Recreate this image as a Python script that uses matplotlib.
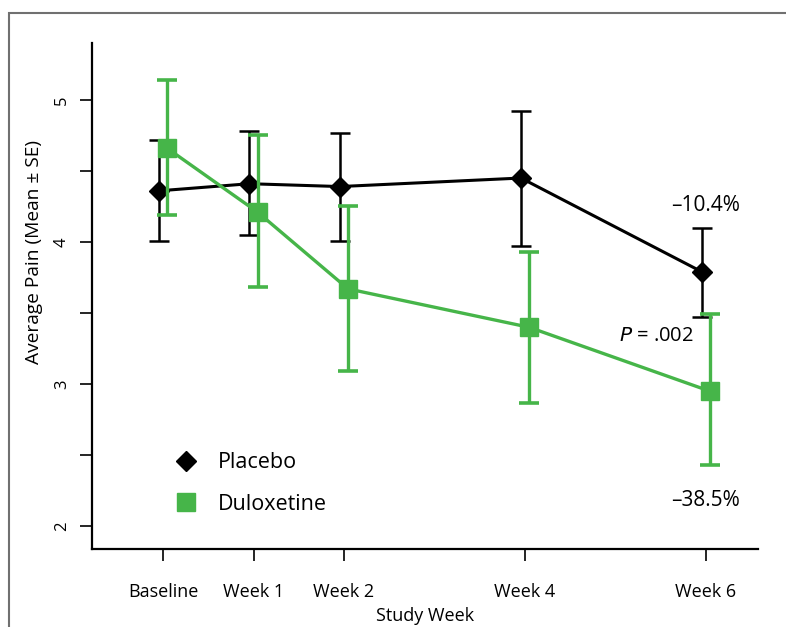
import numpy as np
import matplotlib
matplotlib.use("Agg")
import matplotlib.pyplot as plt
from matplotlib.lines import Line2D
from matplotlib.patches import Rectangle

plt.rcParams['font.family'] = ['Open Sans', 'DejaVu Sans']

# data
weeks = [0, 1, 2, 4, 6]
week_labels = ['Baseline', 'Week 1', 'Week 2', 'Week 4', 'Week 6']
placebo_mean = [4.36, 4.41, 4.39, 4.45, 3.79]
placebo_lo = [4.01, 4.05, 4.01, 3.97, 3.47]
placebo_hi = [4.72, 4.78, 4.77, 4.92, 4.10]
dulox_mean = [4.66, 4.21, 3.67, 3.40, 2.95]
dulox_lo = [4.19, 3.68, 3.09, 2.87, 2.43]
dulox_hi = [5.14, 4.75, 4.25, 3.93, 3.49]

green = '#46b549'

fig = plt.figure(figsize=(7.86, 6.27), dpi=100)
ax = fig.add_axes([92 / 786, 1 - 549 / 627, (758 - 92) / 786, (549 - 43) / 627])

# outer frame of the figure panel
fig.patches.append(Rectangle((8.5 / 786, -0.1), 2, (627 - 12.5) / 627 + 0.1,
                             transform=fig.transFigure, fill=False,
                             edgecolor='#707070', lw=1.5))

x = np.array(weeks, dtype=float)
pm = np.array(placebo_mean)
dm = np.array(dulox_mean)
p_err = [pm - np.array(placebo_lo), np.array(placebo_hi) - pm]
d_err = [dm - np.array(dulox_lo), np.array(dulox_hi) - dm]

ax.errorbar(x - 0.045, pm, yerr=p_err, color='black', lw=2.2, marker='D',
            markersize=10, ecolor='black', elinewidth=1.8, capsize=7,
            capthick=1.8, zorder=2)
ax.errorbar(x + 0.045, dm, yerr=d_err, color=green, lw=2.4, marker='s',
            markersize=13, ecolor=green, elinewidth=2.4, capsize=7,
            capthick=2.6, zorder=3)

ax.set_xlim(-0.785, 6.575)
ax.set_ylim(1.84, 5.40)

ax.set_xticks(weeks)
ax.set_xticklabels(week_labels, fontsize=13)
yt = np.arange(2, 5.01, 0.5)
ax.set_yticks(yt)
ax.set_yticklabels([str(int(v)) if v == int(v) else '' for v in yt],
                   fontsize=12, rotation=90, va='center')

ax.spines['top'].set_visible(False)
ax.spines['right'].set_visible(False)
ax.spines['left'].set_linewidth(1.6)
ax.spines['bottom'].set_linewidth(1.6)
ax.tick_params(axis='x', length=8.5, width=1.2, pad=16)
ax.tick_params(axis='y', length=8.5, width=1.2, pad=7.5)

ax.set_xlabel('Study Week', fontsize=13, labelpad=4)
ax.set_ylabel('Average Pain (Mean ± SE)', fontsize=13.8)
ax.yaxis.set_label_coords(-0.0736, 0.587)

ax.text(6, 4.26, '–10.4%', ha='center', va='center', fontsize=15)
ax.text(5.45, 3.34, r'$\it{P}$ = .002', ha='center', va='center', fontsize=14.5)
ax.text(6, 2.18, '–38.5%', ha='center', va='center', fontsize=15)

handles = [Line2D([], [], color='black', marker='D', linestyle='none', markersize=10),
           Line2D([], [], color=green, marker='s', linestyle='none', markersize=13)]
ax.legend(handles, ['Placebo', 'Duloxetine'], loc='upper left',
          bbox_to_anchor=(0.0925, 0.212), frameon=False, fontsize=15.5,
          handletextpad=0.5, labelspacing=0.95, borderpad=0)

fig.savefig('out.png', dpi=100)
